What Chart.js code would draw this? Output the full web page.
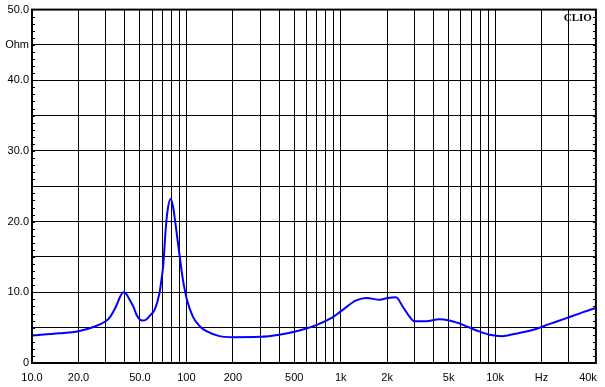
<!DOCTYPE html>
<html>
<head>
<meta charset="utf-8">
<script src="https://cdn.jsdelivr.net/npm/chart.js@4/dist/chart.umd.min.js"></script>
<style>
    html, body { margin: 0; padding: 0; background: #fff; }
    canvas { display: block; }
</style>
</head>
<body>
<canvas id="impedanceChart" width="605" height="387"></canvas>
<script>
// Impedance curve (Hz / Ohm)
const frequencies = [10, 15, 20, 25, 30, 32, 35, 37.5, 39, 41, 43, 45.3, 47.6, 50, 52, 55, 58, 62.5, 67, 69, 71, 73.4, 75.6, 79, 82, 85.5, 90, 95, 101, 110, 122, 135, 164, 200, 300, 400, 540, 700, 890, 1000, 1260, 1470, 1790, 2020, 2280, 2520, 2780, 3000, 3570, 4350, 5060, 6200, 7600, 9200, 11100, 13600, 17700, 22400, 29000, 37200, 45000];
const impedance = [3.9, 4.2, 4.5, 5.1, 5.9, 6.5, 8.0, 9.5, 10.0, 9.7, 8.9, 8.0, 6.8, 6.15, 6.0, 6.15, 6.7, 7.6, 9.9, 11.8, 14.1, 18.8, 21.6, 23.2, 22.1, 19.3, 15.5, 11.8, 8.9, 6.6, 5.2, 4.5, 3.8, 3.65, 3.7, 4.0, 4.6, 5.4, 6.5, 7.3, 8.85, 9.2, 8.95, 9.2, 9.3, 8.0, 6.6, 5.9, 5.9, 6.2, 6.0, 5.4, 4.6, 4.0, 3.8, 4.15, 4.7, 5.5, 6.35, 7.2, 7.8];

// Grid lines on the frequency axis
const xGridValues = [10, 20, 30, 40, 50, 60, 70, 80, 90,
    100, 200, 300, 400, 500, 600, 700, 800, 900,
    1000, 2000, 3000, 4000, 5000, 6000, 7000, 8000, 9000,
    10000, 20000, 30000, 40000];
const xTickLabels = { 10: '10.0', 20: '20.0', 50: '50.0', 100: '100', 200: '200', 500: '500',
    1000: '1k', 2000: '2k', 5000: '5k', 10000: '10k', 20000: 'Hz', 40000: '40k' };
const yTickLabels = { 50: '50.0', 45: 'Ohm', 40: '40.0', 30: '30.0', 20: '20.0', 10: '10.0', 0: '0' };

const labelFont = { family: 'Arial, "Liberation Sans", sans-serif', size: 11 };

// Frame, small ohm ticks and the CLIO mark
const framePlugin = {
    id: 'frame',
    afterDraw(chart) {
        const { ctx, chartArea: a, scales } = chart;
        ctx.save();
        ctx.strokeStyle = '#000';
        ctx.lineWidth = 1;
        ctx.beginPath();
        for (let v = 1; v < 50; v++) {
            const y = Math.round(scales.y.getPixelForValue(v)) + 0.5;
            ctx.moveTo(a.left, y);
            ctx.lineTo(a.left + 3, y);
            ctx.moveTo(a.right - 3, y);
            ctx.lineTo(a.right, y);
        }
        ctx.stroke();
        ctx.lineWidth = 2;
        ctx.strokeRect(a.left, a.top, a.right - a.left, a.bottom - a.top);

        ctx.fillStyle = '#000';
        ctx.font = 'bold 11px "Liberation Serif", "Times New Roman", serif';
        ctx.textAlign = 'right';
        ctx.textBaseline = 'top';
        ctx.fillText('CLIO', a.right - 4, a.top + 3);
        ctx.restore();
    }
};

new Chart(document.getElementById('impedanceChart'), {
    type: 'line',
    data: {
        datasets: [{
            data: frequencies.map((f, i) => ({ x: f, y: impedance[i] })),
            borderColor: '#0000ff',
            borderWidth: 2,
            pointRadius: 0,
            cubicInterpolationMode: 'monotone',
            fill: false
        }]
    },
    options: {
        responsive: false,
        animation: false,
        devicePixelRatio: 1,
        layout: { padding: { top: 9, right: 9, left: 0, bottom: 0 } },
        plugins: {
            legend: { display: false },
            tooltip: { enabled: false }
        },
        scales: {
            x: {
                type: 'logarithmic',
                min: 10,
                max: 45000,
                afterBuildTicks: scale => {
                    scale.ticks = xGridValues.map(v => ({ value: v }));
                },
                afterFit: scale => { scale.height = 24; },
                ticks: {
                    autoSkip: false,
                    maxRotation: 0,
                    padding: 8,
                    color: '#000',
                    font: labelFont,
                    callback: value => xTickLabels[value] || ''
                },
                grid: {
                    color: ctx => (ctx.tick && ctx.tick.value === 40000) ? 'rgba(0,0,0,0)' : '#000',
                    lineWidth: 1,
                    drawTicks: false
                },
                border: { display: false }
            },
            y: {
                min: 0,
                max: 50,
                afterFit: scale => { scale.width = 32; },
                ticks: {
                    stepSize: 5,
                    padding: 3,
                    color: '#000',
                    font: labelFont,
                    callback: value => yTickLabels[value] || ''
                },
                grid: {
                    color: '#000',
                    lineWidth: 1,
                    drawTicks: false
                },
                border: { display: false }
            }
        }
    },
    plugins: [framePlugin]
});
</script>
</body>
</html>
